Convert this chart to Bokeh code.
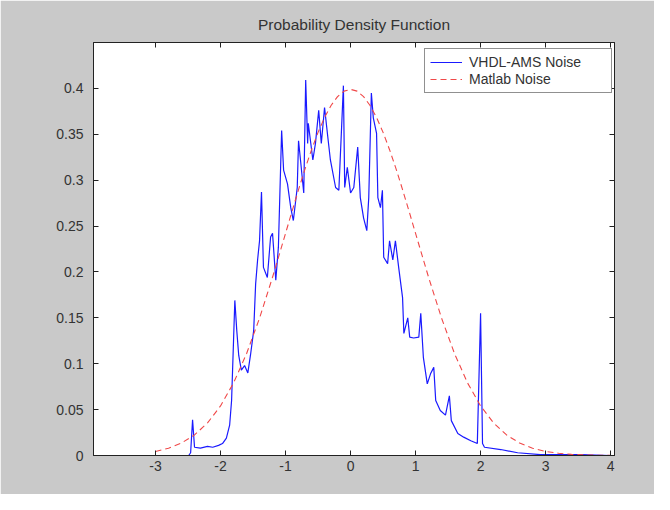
from bokeh.plotting import figure
from bokeh.models import Range1d, LinearAxis, FixedTicker, Legend, LegendItem
from bokeh.embed import file_html
from bokeh.resources import INLINE

# ---- data ----
vhdl_x = [-3.03, -2.49, -2.46, -2.43, -2.40, -2.31, -2.20, -2.12, -2.03, -1.97, -1.91, -1.86,
          -1.83, -1.80, -1.78, -1.75, -1.72, -1.68, -1.63, -1.58, -1.54, -1.49, -1.46, -1.43,
          -1.40, -1.37, -1.34, -1.28, -1.23, -1.20, -1.15, -1.11, -1.06, -1.03, -0.97, -0.92,
          -0.88, -0.82, -0.80, -0.77, -0.72, -0.69, -0.66, -0.65, -0.58, -0.54, -0.49, -0.45,
          -0.40, -0.35, -0.31, -0.23, -0.18, -0.14, -0.11, -0.09, -0.05, 0.00, 0.05, 0.11,
          0.15, 0.20, 0.25, 0.28, 0.32, 0.35, 0.40, 0.42, 0.46, 0.49, 0.51, 0.57,
          0.60, 0.65, 0.69, 0.74, 0.80, 0.82, 0.88, 0.91, 0.97, 1.05, 1.08, 1.12,
          1.18, 1.23, 1.28, 1.31, 1.38, 1.46, 1.52, 1.55, 1.65, 1.74, 1.85, 1.95,
          2.00, 2.03, 2.06, 2.31, 2.57, 2.92, 3.54, 4.00]
vhdl_y = [0.0, 0.0, 0.003, 0.039, 0.009, 0.008, 0.010, 0.009, 0.011, 0.013, 0.019, 0.033,
          0.060, 0.125, 0.169, 0.136, 0.109, 0.093, 0.098, 0.090, 0.109, 0.136, 0.187, 0.213,
          0.234, 0.287, 0.205, 0.194, 0.238, 0.242, 0.191, 0.227, 0.354, 0.311, 0.296, 0.270,
          0.256, 0.292, 0.343, 0.322, 0.286, 0.409, 0.340, 0.362, 0.322, 0.340, 0.376, 0.340,
          0.379, 0.347, 0.322, 0.292, 0.289, 0.354, 0.403, 0.292, 0.314, 0.286, 0.292, 0.336,
          0.281, 0.259, 0.245, 0.281, 0.395, 0.368, 0.351, 0.281, 0.270, 0.289, 0.216, 0.209,
          0.234, 0.213, 0.234, 0.205, 0.172, 0.133, 0.150, 0.129, 0.128, 0.129, 0.155, 0.107,
          0.078, 0.089, 0.096, 0.060, 0.049, 0.044, 0.065, 0.038, 0.024, 0.020, 0.016, 0.013,
          0.155, 0.013, 0.009, 0.0065, 0.003, 0.001, 0.001, 0.0]

matlab_x = [-3.0, -2.8, -2.6, -2.4, -2.2, -2.0, -1.8, -1.6, -1.4, -1.2, -1.0, -0.9, -0.8,
            -0.7, -0.6, -0.5, -0.4, -0.3, -0.2, -0.1, 0.0, 0.1, 0.2, 0.3, 0.4, 0.5, 0.6,
            0.7, 0.8, 0.9, 1.0, 1.2, 1.4, 1.6, 1.8, 2.0, 2.2, 2.4, 2.6, 2.8, 3.0, 3.2,
            3.4, 3.6, 3.8, 4.0]
matlab_y = [0.0044, 0.0079, 0.0136, 0.0224, 0.0355, 0.0540, 0.0790, 0.1109, 0.1497, 0.1942,
            0.2420, 0.2661, 0.2897, 0.3123, 0.3332, 0.3521, 0.3683, 0.3814, 0.3910, 0.3970,
            0.3989, 0.3970, 0.3910, 0.3814, 0.3683, 0.3521, 0.3332, 0.3123, 0.2897, 0.2661,
            0.2420, 0.1942, 0.1497, 0.1109, 0.0790, 0.0540, 0.0355, 0.0224, 0.0136, 0.0079,
            0.0044, 0.0024, 0.0012, 0.0006, 0.0003, 0.0001]

x_ticks = [-3, -2, -1, 0, 1, 2, 3, 4]
x_tick_labels = ["-3", "-2", "-1", "0", "1", "2", "3", "4"]
y_ticks = [0, 0.05, 0.1, 0.15, 0.2, 0.25, 0.3, 0.35, 0.4]
y_tick_labels = ["0", "0.05", "0.1", "0.15", "0.2", "0.25", "0.3", "0.35", "0.4"]
title_text = "Probability Density Function"
series_names = ["VHDL-AMS Noise", "Matlab Noise"]

FONT = "Liberation Sans"
GRAY = "#c9c9c9"

p = figure(width=654, height=494, output_backend="svg", toolbar_location=None,
           x_range=Range1d(-3.954, 4.06), y_range=Range1d(0, 0.45),
           x_axis_location=None, y_axis_location=None,
           min_border_left=93, min_border_right=40, min_border_top=42, min_border_bottom=39)
p.border_fill_color = GRAY
p.background_fill_color = "white"
p.outline_line_color = "#222222"
p.xgrid.visible = False
p.ygrid.visible = False

p.title.text = title_text
p.title.align = "center"
p.title.text_font = FONT
p.title.text_font_size = "15.5px"
p.title.text_font_style = "normal"
p.title.text_color = "#333333"
p.title.standoff = 20


def style_axis(ax, show_labels, ticks):
    ax.axis_line_color = "#222222"
    ax.major_tick_line_color = "#222222"
    ax.major_tick_in = 5
    ax.major_tick_out = 0
    ax.minor_tick_line_color = None
    ax.major_label_text_font = FONT
    ax.major_label_text_font_size = "14px"
    ax.major_label_text_color = "#333333"
    if not show_labels:
        ax.major_label_overrides = {t: "" for t in ticks}
        ax.major_label_standoff = 0


xb = LinearAxis(ticker=FixedTicker(ticks=x_ticks))
style_axis(xb, True, x_ticks)
xb.major_label_overrides = {t: s for t, s in zip(x_ticks, x_tick_labels)}
xb.major_label_standoff = 5
p.add_layout(xb, "below")

xt = LinearAxis(ticker=FixedTicker(ticks=x_ticks))
style_axis(xt, False, x_ticks)
p.add_layout(xt, "above")

yl = LinearAxis(ticker=FixedTicker(ticks=y_ticks))
style_axis(yl, True, y_ticks)
yl.major_label_overrides = {t: s for t, s in zip(y_ticks, y_tick_labels)}
yl.major_label_standoff = 10
p.add_layout(yl, "left")

yr = LinearAxis(ticker=FixedTicker(ticks=y_ticks))
style_axis(yr, False, y_ticks)
p.add_layout(yr, "right")

r_blue = p.line(vhdl_x, vhdl_y, line_color="#1a1aff", line_width=1.2)
r_red = p.line(matlab_x, matlab_y, line_color="#f04848", line_width=1.1,
               line_dash="6 4")

legend = Legend(items=[LegendItem(label=series_names[0], renderers=[r_blue]),
                       LegendItem(label=series_names[1], renderers=[r_red])],
                location=(331, 362))
legend.label_text_font = FONT
legend.label_text_font_size = "14px"
legend.label_text_color = "#333333"
legend.padding = 5
legend.spacing = 1
legend.glyph_width = 32
legend.glyph_height = 16
legend.label_height = 16
legend.label_standoff = 7
legend.label_width = 137
legend.border_line_color = "#222222"
legend.background_fill_color = "white"
legend.background_fill_alpha = 1
legend.margin = 0
p.add_layout(legend, "center")

open("out.html", "w").write(file_html(p, INLINE))
